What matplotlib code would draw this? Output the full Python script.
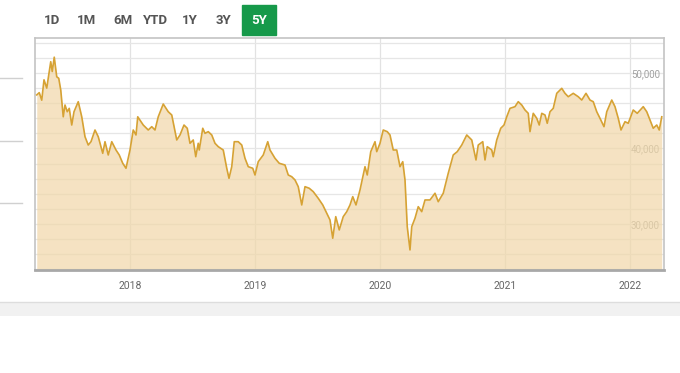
import numpy as np
import matplotlib.pyplot as plt
from matplotlib.patches import Rectangle
from matplotlib.ticker import FuncFormatter, MultipleLocator

# 5年指数走势 (横轴为小数年份)
years = [2017.254, 2017.274, 2017.294, 2017.312, 2017.334, 2017.366, 2017.378, 2017.394, 2017.414, 2017.430,
         2017.446, 2017.466, 2017.480, 2017.498, 2017.514, 2017.534, 2017.552, 2017.586, 2017.614, 2017.640,
         2017.666, 2017.688, 2017.720, 2017.746, 2017.782, 2017.800, 2017.826, 2017.854, 2017.888, 2017.914,
         2017.942, 2017.968, 2018.000, 2018.026, 2018.048, 2018.062, 2018.106, 2018.146, 2018.174, 2018.200,
         2018.226, 2018.266, 2018.306, 2018.334, 2018.374, 2018.400, 2018.432, 2018.458, 2018.480, 2018.506,
         2018.526, 2018.546, 2018.554, 2018.582, 2018.600, 2018.626, 2018.654, 2018.680, 2018.706, 2018.746,
         2018.774, 2018.792, 2018.814, 2018.834, 2018.866, 2018.894, 2018.920, 2018.946, 2018.982, 2019.000,
         2019.026, 2019.066, 2019.102, 2019.120, 2019.160, 2019.194, 2019.240, 2019.266, 2019.294, 2019.320,
         2019.346, 2019.374, 2019.400, 2019.434, 2019.466, 2019.506, 2019.542, 2019.574, 2019.600, 2019.622,
         2019.646, 2019.674, 2019.706, 2019.734, 2019.760, 2019.782, 2019.808, 2019.840, 2019.880, 2019.898,
         2019.926, 2019.960, 2019.974, 2020.000, 2020.026, 2020.058, 2020.080, 2020.106, 2020.134, 2020.160,
         2020.182, 2020.200, 2020.218, 2020.240, 2020.254, 2020.280, 2020.306, 2020.334, 2020.360, 2020.400,
         2020.440, 2020.466, 2020.506, 2020.546, 2020.586, 2020.618, 2020.654, 2020.694, 2020.734, 2020.768,
         2020.786, 2020.822, 2020.840, 2020.858, 2020.894, 2020.906, 2020.934, 2020.966, 2020.992, 2021.014,
         2021.040, 2021.080, 2021.106, 2021.134, 2021.160, 2021.186, 2021.200, 2021.226, 2021.254, 2021.274,
         2021.294, 2021.320, 2021.338, 2021.360, 2021.386, 2021.414, 2021.454, 2021.480, 2021.506, 2021.546,
         2021.586, 2021.614, 2021.648, 2021.680, 2021.706, 2021.734, 2021.760, 2021.792, 2021.814, 2021.854,
         2021.880, 2021.906, 2021.928, 2021.960, 2021.986, 2022.026, 2022.058, 2022.106, 2022.134, 2022.160,
         2022.186, 2022.214, 2022.234, 2022.254]
values = [47100, 47400, 46400, 49100, 48000, 51500, 50200, 52100, 49500, 49300,
          47750, 44200, 45760, 44870, 45320, 43110, 44870, 46200, 44200, 41560,
          40460, 40900, 42450, 41560, 39360, 40900, 39140, 40900, 39800, 39140,
          38040, 37380, 39800, 42450, 41790, 44200, 43110, 42450, 42890, 42450,
          44200, 45890, 44870, 44440, 41130, 41790, 43110, 42680, 40690, 41130,
          38910, 40690, 39800, 42680, 42010, 42230, 41790, 40690, 40240, 39800,
          37380, 36050, 37590, 40900, 40900, 40460, 38700, 37590, 37380, 36490,
          38250, 39140, 40900, 39800, 38700, 38040, 37810, 36490, 36260, 35830,
          34940, 32520, 34940, 34730, 34280, 33400, 32520, 31420, 30530, 28110,
          30970, 29210, 30970, 31630, 32520, 33620, 32520, 34500, 37590, 36490,
          39580, 40900, 39580, 40690, 42450, 42230, 41790, 39800, 39800, 37590,
          38250, 35830, 29640, 26560, 29640, 30760, 32290, 31630, 33180, 33180,
          34070, 32950, 34070, 36720, 39140, 39580, 40460, 41790, 41130, 38480,
          40460, 40900, 38480, 40240, 39800, 38910, 41130, 42680, 43110, 44200,
          45320, 45540, 46200, 45760, 45100, 44660, 42230, 44660, 44000, 43110,
          44660, 44440, 43340, 44870, 45320, 47310, 47970, 47310, 46860, 47310,
          46860, 46420, 47310, 46420, 46200, 44870, 44000, 42890, 44870, 46420,
          45540, 44000, 42450, 43550, 43340, 45100, 44660, 45540, 44870, 43780,
          42680, 43110, 42450, 44200]

year_ticks = [2018, 2019, 2020, 2021, 2022]
value_ticks = [30000, 40000, 50000]
buttons = ["1D", "1M", "6M", "YTD", "1Y", "3Y", "5Y"]

plt.rcParams['font.family'] = ['Roboto', 'DejaVu Sans']

fig = plt.figure(figsize=(6.8, 3.73), dpi=100)
W, H = 680, 373

# 顶部时间范围按钮
bx = [52, 87, 123, 156, 190, 224, 259]
for lab, x in zip(buttons, bx):
    if lab == "5Y":
        fig.patches.append(Rectangle((242 / W, 1 - 35 / H), 34 / W, 30 / H,
                                     transform=fig.transFigure, color='#16994a', zorder=0))
        fig.text(x / W, 1 - 20 / H, lab, color='white', fontsize=9.5, fontweight='bold',
                 ha='center', va='center')
    else:
        fig.text(x / W, 1 - 20 / H, lab, color='#555555', fontsize=9.5, fontweight='bold',
                 ha='center', va='center')

# 左侧残留的网格短线
for yy in [78, 141, 203]:
    fig.add_artist(plt.Line2D([0, 22 / W], [1 - yy / H] * 2, color='#d0d0d0', lw=1,
                              transform=fig.transFigure))

# 底部灰条
fig.patches.append(Rectangle((0, 1 - 316 / H), 1, 14 / H, transform=fig.transFigure,
                             facecolor='#f1f1f1', edgecolor='none'))
fig.add_artist(plt.Line2D([0, 1], [1 - 302 / H] * 2, color='#dddddd', lw=1,
                          transform=fig.transFigure))

ax = fig.add_axes([35 / W, 1 - 270 / H, 629 / W, 232 / H])
ax.set_xlim(2017.24, 2022.272)
ax.set_ylim(23900, 54640)

ax.fill_between(years, values, 23900, color='#f1d7a8', alpha=0.7, lw=0, zorder=2)
ax.plot(years, values, color='#d6a234', lw=1.2, zorder=3)

ax.set_xticks(year_ticks)
ax.set_xticklabels([str(y) for y in year_ticks])
ax.set_yticks(value_ticks)
ax.yaxis.set_minor_locator(MultipleLocator(2000))
ax.yaxis.set_major_formatter(FuncFormatter(lambda v, p: f"{int(v):,}"))
ax.grid(True, axis='x', color='#e2e2e2', lw=0.9, zorder=1)
ax.grid(True, axis='y', which='both', color='#e6e6e6', lw=0.9, zorder=1)
ax.set_axisbelow(True)

ax.tick_params(axis='x', length=0, pad=8, labelsize=7.5, labelcolor='#666666')
ax.tick_params(axis='y', which='both', length=0, labelleft=False, labelright=True,
               pad=-3, labelsize=7, labelcolor='#a0a0a0')
for lab in ax.get_yticklabels():
    lab.set_horizontalalignment('right')

for s in ['left', 'top', 'right']:
    ax.spines[s].set_color('#c4c4c4')
    ax.spines[s].set_linewidth(1.2)
ax.spines['bottom'].set_color('#a8a8a8')
ax.spines['bottom'].set_linewidth(2)

fig.savefig('out.png', dpi=100)
